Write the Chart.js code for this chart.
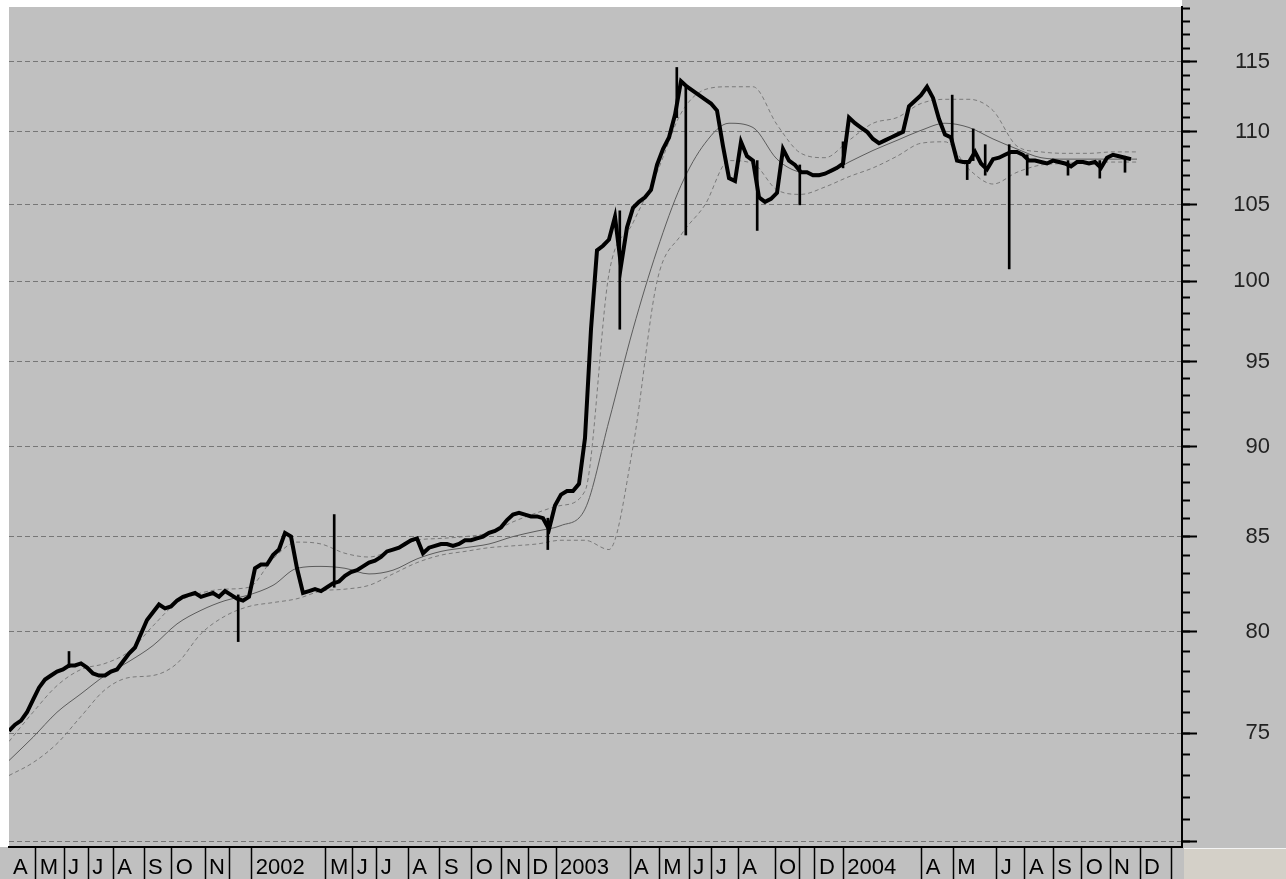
<!DOCTYPE html>
<html>
<head>
<meta charset="utf-8">
<title>Price chart</title>
<script src="https://cdn.jsdelivr.net/npm/chart.js@4.4.1/dist/chart.umd.min.js"></script>
<style>
  html, body { margin: 0; padding: 0; background: #fff; }
  canvas { display: block; }
</style>
</head>
<body>
<canvas id="chart" width="1286" height="879" style="width:1286px;height:879px"></canvas>
<script>
// --- Data ---

// weekly closing level, week 0 = first week of April 2001
const weeklyClose = [
  75.1, 75.4, 75.6, 76.0, 76.6, 77.2, 77.6, 77.8, 78.0, 78.1,
  78.3, 78.3, 78.4, 78.2, 77.9, 77.8, 77.8, 78.0, 78.1, 78.5,
  78.9, 79.2, 79.9, 80.6, 81.0, 81.4, 81.2, 81.3, 81.6, 81.8,
  81.9, 82.0, 81.8, 81.9, 82.0, 81.8, 82.1, 81.9, 81.7, 81.6,
  81.8, 83.3, 83.5, 83.5, 84.0, 84.3, 85.2, 85.0, 83.3, 82.0,
  82.1, 82.2, 82.1, 82.3, 82.5, 82.6, 82.9, 83.1, 83.2, 83.4,
  83.6, 83.7, 83.9, 84.2, 84.3, 84.4, 84.6, 84.8, 84.9, 84.1,
  84.4, 84.5, 84.6, 84.6, 84.5, 84.6, 84.8, 84.8, 84.9, 85.0,
  85.2, 85.3, 85.5, 85.9, 86.2, 86.3, 86.2, 86.1, 86.1, 86.0,
  85.4, 86.7, 87.3, 87.5, 87.5, 87.9, 90.5, 97.0, 102.0, 102.3,
  102.7, 104.2, 101.0, 103.5, 104.8, 105.2, 105.5, 106.0, 107.7, 108.8,
  109.6, 111.2, 113.6, 113.2, 112.9, 112.6, 112.3, 112.0, 111.5, 109.0,
  106.8, 106.6, 109.3, 108.3, 108.0, 105.5, 105.2, 105.4, 105.8, 108.8,
  108.0, 107.7, 107.2, 107.2, 107.0, 107.0, 107.1, 107.3, 107.5, 107.8,
  111.0, 110.6, 110.3, 110.0, 109.5, 109.2, 109.4, 109.6, 109.8, 110.0,
  111.8, 112.2, 112.6, 113.2, 112.4, 110.9, 109.8, 109.6, 108.0, 107.9,
  107.9, 108.6, 107.8, 107.4, 108.1, 108.2, 108.4, 108.6, 108.6, 108.4,
  108.0, 108.0, 107.9, 107.8, 108.0, 107.9, 107.8, 107.6, 107.9, 107.9,
  107.8, 107.9, 107.5, 108.2, 108.4, 108.3, 108.2, 108.1
];

// single bars whose range sticks out of the close line
const spikeWeeks = [10, 38.2, 54.2, 89.8, 101.8, 111.3, 112.8, 124.7, 131.8, 139, 157.2, 159.7, 160.7, 162.7, 166.7, 169.7, 176.5, 181.8, 186];
const spikeLows  = [78.2, 79.5, 82.3, 84.3, 97.0, 111.0, 103.0, 103.3, 105.0, 107.5, 109.3, 106.7, 108.0, 107.0, 100.8, 107.0, 107.0, 106.8, 107.2];
const spikeHighs = [79.0, 81.9, 86.2, 86.0, 104.6, 114.6, 113.2, 108.0, 107.7, 109.3, 112.6, 108.0, 110.2, 109.1, 109.1, 108.4, 108.0, 108.0, 108.3];

// moving average and its bands, one value every 4 weeks
const bandStep = 4;
const movingAvg = [
  73.7, 74.8, 76.0, 76.9, 77.8, 78.5, 79.3, 80.4, 81.1, 81.6,
  81.9, 82.4, 83.3, 83.4, 83.3, 83.0, 83.2, 83.8, 84.2, 84.4,
  84.6, 85.0, 85.3, 85.6, 86.5, 91.5, 97.0, 102.0, 106.3, 109.2,
  110.6, 110.3, 108.1, 107.2, 107.1, 107.9, 108.7, 109.4, 110.1, 110.6,
  110.3, 109.5, 108.8, 108.2, 108.1, 108.1, 108.1, 108.1
];
const upperBand = [
  74.6, 76.0, 77.3, 78.1, 78.4, 79.0, 80.3, 81.5, 82.0, 82.2,
  82.3, 83.8, 84.7, 84.6, 84.1, 83.9, 84.3, 84.8, 84.9, 85.0,
  85.2, 85.8, 86.3, 86.7, 87.5, 100.5, 103.8, 107.2, 111.3, 113.0,
  113.2, 113.2, 110.5, 108.5, 108.2, 109.4, 110.6, 111.0, 112.0, 112.3,
  112.3, 111.5, 109.0, 108.6, 108.5, 108.5, 108.6, 108.6
];
const lowerBand = [
  73.0, 73.6, 74.5, 75.8, 77.1, 77.7, 77.8, 78.4, 79.9, 80.8,
  81.3, 81.5, 81.7, 82.1, 82.2, 82.4, 83.0, 83.6, 84.0, 84.2,
  84.4, 84.5, 84.6, 84.8, 84.8, 84.3, 90.0, 100.0, 103.0, 105.0,
  108.0, 107.8, 106.0, 105.7, 106.2, 106.9, 107.5, 108.3, 109.2, 109.3,
  107.4, 106.4, 107.2, 107.7, 107.8, 107.9, 107.9, 107.9
];

// month strip along the bottom (week where each cell starts)
const monthTickWeeks = [
  0, 4.45, 9.17, 13.22, 17.38, 22.5, 27.12, 32.67, 36.83,
  40.45, 52.83, 57.28, 61.28, 66.55, 71.83, 77.12, 82.12, 86.55,
  91.17, 103.5, 108.38, 113.38, 117.12, 121.55, 127.67, 131.83, 134.33,
  139.05, 152.12, 157.38, 164.62, 169.33, 174.05, 178.78, 183.5, 188.5,
  193.78
];
const monthTickNames = [
  'A', 'M', 'J', 'J', 'A', 'S', 'O', 'N', '',
  '2002', 'M', 'J', 'J', 'A', 'S', 'O', 'N', 'D',
  '2003', 'A', 'M', 'J', 'J', 'A', 'O', '', 'D',
  '2004', 'A', 'M', 'J', 'A', 'S', 'O', 'N', 'D',
  ''
];

// price axis
const priceMin = 69.75;
const priceMax = 119.1;
const gridPrices = [70, 75, 80, 85, 90, 95, 100, 105, 110, 115];
const labelledPrices = [75, 80, 85, 90, 95, 100, 105, 110, 115];
const weekMax = 195.5;

// --- Helpers ---
const FONT = 'Liberation Sans, Arial, sans-serif';
const bandPoints = arr => arr.map((v, j) => ({ x: j * bandStep, y: v }));
const minorTicks = [];
for (let v = Math.ceil(priceMin); v <= Math.floor(priceMax); v++) minorTicks.push(v);

// grey panel, white margins, beige corner
const framePlugin = {
  id: 'frame',
  beforeDraw(chart) {
    const { ctx, chartArea: a, width, height } = chart;
    ctx.save();
    ctx.fillStyle = '#ffffff';
    ctx.fillRect(0, 0, width, height);
    ctx.fillStyle = '#c0c0c0';
    ctx.fillRect(a.left, a.top, width - a.left, height - a.top);
    ctx.fillRect(0, a.bottom, a.left, height - a.bottom);
    ctx.fillRect(a.right, 0, width - a.right, a.top);
    ctx.fillStyle = '#d4d0c8';
    ctx.fillRect(a.right + 2, a.bottom + 2, width - a.right - 2, height - a.bottom - 2);
    ctx.fillStyle = '#f4f4f4';
    ctx.fillRect(a.right + 2, a.bottom + 1, width - a.right - 2, 1);
    ctx.restore();
  }
};

new Chart(document.getElementById('chart'), {
  type: 'line',
  data: {
    datasets: [
      {
        label: 'Close',
        data: weeklyClose.map((v, i) => ({ x: i, y: v })),
        borderColor: '#000',
        borderWidth: 4,
        pointRadius: 0,
        order: 0
      },
      {
        type: 'bar',
        label: 'Range',
        data: spikeWeeks.map((w, i) => ({ x: w, y: [spikeLows[i], spikeHighs[i]] })),
        backgroundColor: '#000',
        barThickness: 2,
        grouped: false,
        order: 1
      },
      {
        label: 'Average',
        data: bandPoints(movingAvg),
        borderColor: '#5c5c5c',
        borderWidth: 1,
        pointRadius: 0,
        cubicInterpolationMode: 'monotone',
        order: 2
      },
      {
        label: 'Upper',
        data: bandPoints(upperBand),
        borderColor: '#7a7a7a',
        borderWidth: 1,
        borderDash: [4, 3],
        pointRadius: 0,
        cubicInterpolationMode: 'monotone',
        order: 3
      },
      {
        label: 'Lower',
        data: bandPoints(lowerBand),
        borderColor: '#7a7a7a',
        borderWidth: 1,
        borderDash: [4, 3],
        pointRadius: 0,
        cubicInterpolationMode: 'monotone',
        order: 3
      }
    ]
  },
  options: {
    responsive: false,
    animation: false,
    devicePixelRatio: 1,
    layout: { padding: { left: 9, top: 7, right: 16, bottom: 0 } },
    plugins: { legend: { display: false }, tooltip: { enabled: false } },
    scales: {
      x: {
        type: 'linear',
        min: 0,
        max: weekMax,
        offset: false,
        afterBuildTicks: s => { s.ticks = monthTickWeeks.map(v => ({ value: v })); },
        afterFit: s => { s.height = 32; s.paddingLeft = 0; s.paddingRight = 0; },
        grid: {
          offset: false,
          drawOnChartArea: false,
          tickLength: 32,
          tickWidth: 1.5,
          tickColor: c => (c.index === 0 ? 'rgba(0,0,0,0)' : '#000')
        },
        border: { display: true, color: '#000', width: 2 },
        ticks: {
          autoSkip: false,
          maxRotation: 0,
          align: 'start',
          labelOffset: 4,
          padding: -24,
          color: '#000',
          font: { family: FONT, size: 22 },
          callback: (v, i) => monthTickNames[i]
        }
      },
      y: {
        type: 'logarithmic',
        position: 'right',
        weight: 1,
        min: priceMin,
        max: priceMax,
        afterBuildTicks: s => { s.ticks = gridPrices.map(v => ({ value: v })); },
        afterFit: s => { s.width = 88; s.paddingTop = 0; s.paddingBottom = 0; },
        grid: { color: '#777', lineWidth: 1, tickLength: 15, tickColor: '#000', tickWidth: 2 },
        border: { display: true, color: '#000', width: 2, dash: [5, 3] },
        ticks: {
          autoSkip: false,
          crossAlign: 'far',
          color: '#222',
          font: { family: FONT, size: 22 },
          callback: v => (labelledPrices.includes(v) ? String(v) : '')
        }
      },
      yMinor: {
        type: 'logarithmic',
        position: 'right',
        weight: 0,
        min: priceMin,
        max: priceMax,
        afterBuildTicks: s => { s.ticks = minorTicks.map(v => ({ value: v })); },
        afterFit: s => { s.width = 0; s.paddingTop = 0; s.paddingBottom = 0; },
        grid: { drawOnChartArea: false, tickLength: 8, tickColor: '#000', tickWidth: 2 },
        border: { display: false },
        ticks: { display: false, autoSkip: false }
      }
    }
  },
  plugins: [framePlugin]
});
</script>
</body>
</html>
